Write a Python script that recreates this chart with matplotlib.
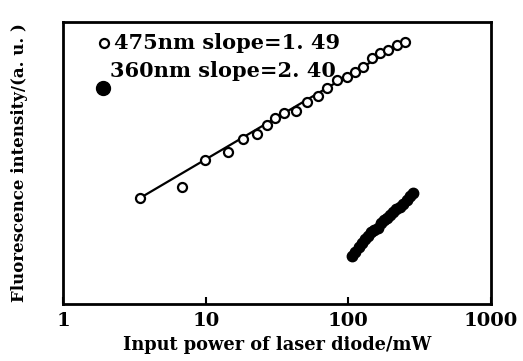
import numpy as np
import matplotlib
matplotlib.use('Agg')
import matplotlib.pyplot as plt

# 475 nm emission, open circles
x_475 = [3.47, 6.82, 9.9, 14.3, 18.3, 22.9, 26.9, 30.6, 35.4, 42.9, 51.3,
         61.3, 70.8, 83.2, 97.7, 111, 126, 146, 166, 190, 219, 249]
y_475 = [37.6, 41.5, 51.1, 53.9, 58.5, 60.3, 63.5, 66.0, 67.7, 68.4, 71.6,
         73.8, 76.6, 79.4, 80.5, 82.3, 84.0, 87.2, 89.0, 90.1, 91.8, 92.9]

# 360 nm emission, filled circles
x_360 = [106, 112, 118, 124, 131, 138, 145, 152, 160, 168, 177, 186,
         196, 206, 217, 229, 241, 256, 270, 284]
y_360 = [17.0, 18.6, 20.2, 21.5, 22.9, 24.2, 25.4, 26.3, 27.0, 28.6, 29.9,
         30.6, 31.7, 32.5, 33.6, 34.5, 35.6, 36.8, 38.2, 39.4]

labels = ["475nm slope=1. 49", "360nm slope=2. 40"]
xticks = [1, 10, 100, 1000]

serif = ['DejaVu Serif']

fig = plt.figure(figsize=(5.23, 3.61), dpi=100)
ax = fig.add_axes([0.1205, 0.158, 0.8185, 0.781])

# straight line through the 475 nm series, end to end
ax.plot([x_475[0], x_475[-1]], [y_475[0], y_475[-1]], color='black',
        lw=1.6, zorder=1)
ax.plot(x_475, y_475, 'o', mfc='white', mec='black', mew=1.6, ms=6.5, zorder=2)
ax.plot(x_360, y_360, 'o', color='black', ms=7.5, zorder=2)

ax.set_xscale('log')
ax.set_xlim(1, 1000)
ax.set_ylim(0, 100)
ax.set_xticks(xticks)
ax.set_xticklabels([str(t) for t in xticks])
ax.minorticks_off()
ax.set_yticks([])
ax.tick_params(axis='x', direction='in', length=5, width=1.5, pad=6,
               labelsize=14)
for lab in ax.get_xticklabels():
    lab.set_family(serif)
    lab.set_fontweight('bold')
for s in ax.spines.values():
    s.set_linewidth(2)

# legend drawn by hand like the original
ax.plot([1.95], [92.5], 'o', mfc='white', mec='black', mew=1.6, ms=6.5)
ax.text(2.27, 92.5, labels[0], fontsize=15, family=serif, fontweight='bold',
        va='center', ha='left')
ax.text(2.12, 82.5, labels[1], fontsize=15, family=serif, fontweight='bold',
        va='center', ha='left')
ax.plot([1.9], [76.5], 'o', color='black', ms=10)

ax.set_xlabel("Input power of laser diode/mW", fontsize=12.8, family=serif,
              fontweight='bold', labelpad=4)
ax.set_ylabel("Fluorescence intensity/(a. u. )", fontsize=12, family=serif,
              fontweight='bold', labelpad=25)

fig.savefig('out.png', dpi=100)
